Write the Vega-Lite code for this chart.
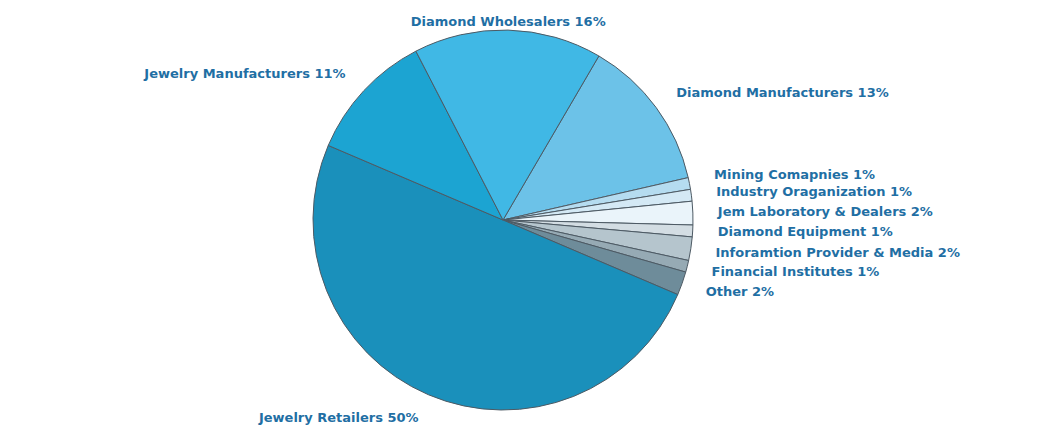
{
  "$schema": "https://vega.github.io/schema/vega-lite/v6.json",
  "width": 1046,
  "height": 430,
  "autosize": {"type": "fit", "contains": "padding"},
  "padding": {"top": 10, "left": 0, "right": 40, "bottom": 0},
  "background": "white",
  "view": {"stroke": null},
  "data": {
    "values": [
      {"idx": 1, "segment": "Diamond Manufacturers", "share": 13, "label": "Diamond Manufacturers 13%"},
      {"idx": 2, "segment": "Mining Comapnies", "share": 1, "label": "Mining Comapnies 1%"},
      {"idx": 3, "segment": "Industry Oraganization", "share": 1, "label": "Industry Oraganization 1%"},
      {"idx": 4, "segment": "Jem Laboratory & Dealers", "share": 2, "label": "Jem Laboratory & Dealers 2%"},
      {"idx": 5, "segment": "Diamond Equipment", "share": 1, "label": "Diamond Equipment 1%"},
      {"idx": 6, "segment": "Inforamtion Provider & Media", "share": 2, "label": "Inforamtion Provider & Media 2%"},
      {"idx": 7, "segment": "Financial Institutes", "share": 1, "label": "Financial Institutes 1%"},
      {"idx": 8, "segment": "Other", "share": 2, "label": "Other 2%"},
      {"idx": 9, "segment": "Jewelry Retailers", "share": 50, "label": "Jewelry Retailers 50%"},
      {"idx": 10, "segment": "Jewelry Manufacturers", "share": 11, "label": "Jewelry Manufacturers 11%"},
      {"idx": 11, "segment": "Diamond Wholesalers", "share": 16, "label": "Diamond Wholesalers 16%"}
    ]
  },
  "encoding": {
    "theta": {"field": "share", "type": "quantitative", "stack": true, "scale": {"range": [0.529, 6.8122]}},
    "order": {"field": "idx", "type": "quantitative"}
  },
  "layer": [
    {
      "mark": {"type": "arc", "outerRadius": 190, "stroke": "#4d5a64", "strokeWidth": 1},
      "encoding": {
        "color": {
          "field": "segment",
          "type": "nominal",
          "legend": null,
          "scale": {
            "domain": ["Diamond Manufacturers", "Mining Comapnies", "Industry Oraganization", "Jem Laboratory & Dealers", "Diamond Equipment", "Inforamtion Provider & Media", "Financial Institutes", "Other", "Jewelry Retailers", "Jewelry Manufacturers", "Diamond Wholesalers"],
            "range": ["#6cc2e8", "#b5dcf0", "#d4e9f5", "#eaf4fa", "#d3dde3", "#b5c5cd", "#96aab4", "#6e8c9a", "#1a90bb", "#1ca4d2", "#40b8e5"]
          }
        }
      }
    },
    {
      "mark": {
        "type": "text",
        "radius": {"expr": "datum.idx == 11 ? 198 : 215"},
        "font": "DejaVu Sans",
        "fontWeight": "bold",
        "fontSize": 13,
        "fill": "#1f6fa4",
        "align": {"expr": "datum.idx >= 11 ? 'center' : (datum.idx >= 9 ? 'right' : 'left')"},
        "baseline": {"expr": "datum.idx == 2 ? 'alphabetic' : 'middle'"}
      },
      "encoding": {
        "text": {"field": "label", "type": "nominal"}
      }
    }
  ]
}
